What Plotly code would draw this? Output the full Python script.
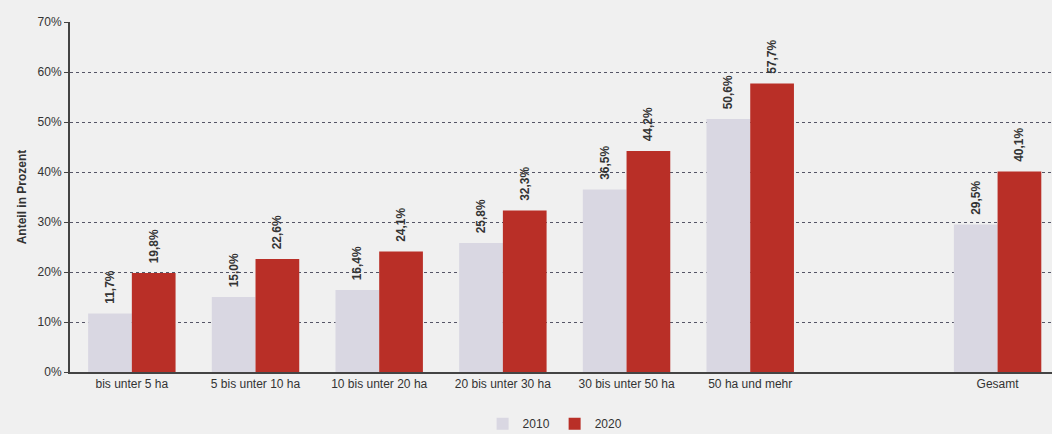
import plotly.graph_objects as go

# Share of farms by size class, 2010 vs 2020
categories = ["bis unter 5 ha", "5 bis unter 10 ha", "10 bis unter 20 ha",
              "20 bis unter 30 ha", "30 bis unter 50 ha", "50 ha und mehr",
              " ", "Gesamt"]
values_2010 = [11.7, 15.0, 16.4, 25.8, 36.5, 50.6, None, 29.5]
values_2020 = [19.8, 22.6, 24.1, 32.3, 44.2, 57.7, None, 40.1]
y_ticks = [0, 10, 20, 30, 40, 50, 60, 70]
y_tick_labels = [f"{t}%" for t in y_ticks]

FONT = "Liberation Sans, Arial, sans-serif"


def fmt(vals):
    # German decimal comma; leading no-break spaces lift the rotated label off the bar
    return ["" if v is None else "\u00a0\u00a0" + f"{v:.1f}%".replace(".", ",") for v in vals]


label_font = dict(family=FONT, size=12, color="#333333")

fig = go.Figure()
fig.add_trace(go.Bar(
    x=categories, y=values_2010, name="2010",
    marker=dict(color="#d9d7e2", line=dict(width=0)),
    text=fmt(values_2010), textposition="outside", textangle=-90,
    texttemplate="<b>%{text}</b>",
    textfont=dict(family=FONT, size=12, color="#333333"),
    cliponaxis=False,
))
fig.add_trace(go.Bar(
    x=categories, y=values_2020, name="2020",
    marker=dict(color="#b92f27", line=dict(width=0)),
    text=fmt(values_2020), textposition="outside", textangle=-90,
    texttemplate="<b>%{text}</b>",
    textfont=dict(family=FONT, size=12, color="#333333"),
    cliponaxis=False,
))

fig.update_layout(
    width=1052, height=434,
    margin=dict(l=70, r=0, t=22, b=62, autoexpand=False),
    paper_bgcolor="#f0f0f0", plot_bgcolor="#f0f0f0",
    barmode="group", bargap=0.293, bargroupgap=0,
    font=label_font,
    showlegend=True,
    legend=dict(orientation="h", x=0.494, xanchor="center", y=-0.148, yanchor="middle",
                font=dict(size=12, color="#333333"), itemwidth=30,
                bgcolor="rgba(0,0,0,0)"),
    xaxis=dict(
        type="category", range=[-0.5, 7.44],
        showline=True, linecolor="#444444", linewidth=2,
        ticks="", tickfont=dict(size=12, color="#333333"),
        showgrid=False,
    ),
    yaxis=dict(
        range=[0, 70], tickvals=y_ticks, ticktext=y_tick_labels,
        showline=True, linecolor="#444444", linewidth=2,
        ticks="outside", ticklen=4, tickcolor="#444444",
        tickfont=dict(size=12, color="#333333"),
        showgrid=True, gridcolor="#555566", gridwidth=1, griddash="3px,3px",
        zeroline=False,
        title=dict(text="<b>Anteil in Prozent</b>", font=dict(size=12, color="#333333"),
                   standoff=8),
    ),
)

fig.write_html("out.html")
